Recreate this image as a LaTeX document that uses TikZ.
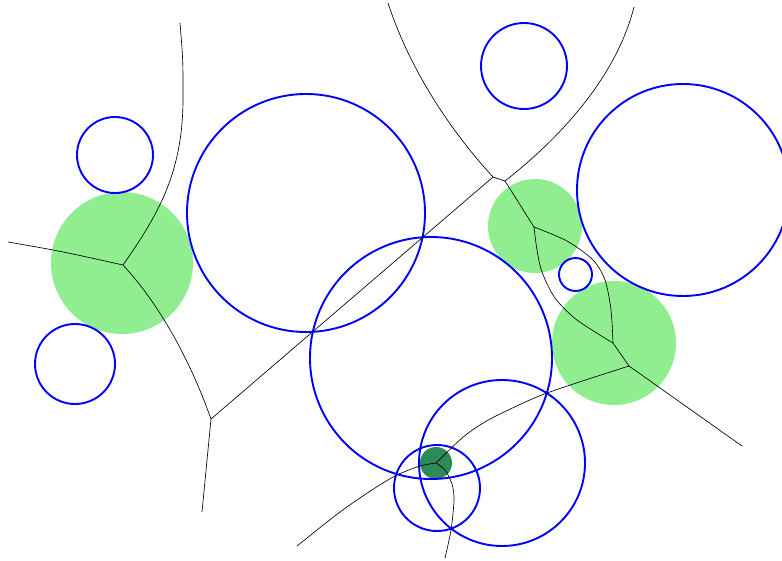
\documentclass[tikz,border=0pt]{standalone}
\definecolor{lgreen}{HTML}{90EE90}
\definecolor{dgreen}{HTML}{2E8B57}
\begin{document}
\begin{tikzpicture}[x=1pt,y=-1pt,
  site/.style={draw=blue,line width=1.9pt},
  wsite/.style={fill=lgreen},
  dsite/.style={fill=dgreen},
  edge/.style={draw=black,line width=0.65pt}]
\useasboundingbox (0,0) rectangle (782,560);
% weighted (green) sites
\fill[wsite] (122,263) circle (71);
\fill[wsite] (535,226) circle (47);
\fill[wsite] (614,343) circle (62);
\fill[dsite] (436,463) circle (16);
% blue sites
\draw[site] (115,155) circle (38);
\draw[site] (75,364) circle (40);
\draw[site] (306,213) circle (119);
\draw[site] (524,66) circle (43);
\draw[site] (683,190) circle (106);
\draw[site] (575.5,274.5) circle (16.5);
\draw[site] (431,358) circle (121);
\draw[site] (502,463) circle (83);
\draw[site] (437,488) circle (43);
% vertices
\coordinate (v1) at (123,265);
\coordinate (v2) at (211,419);
\coordinate (v3) at (493,177);
\coordinate (v4) at (505,181);
\coordinate (v5) at (534,227);
\coordinate (v6) at (613,343);
\coordinate (v7) at (629,366);
\coordinate (v8) at (436,463);
\coordinate (e1) at (8,242);
\coordinate (e2) at (180,23);
\coordinate (e3) at (202,512);
\coordinate (e4) at (388,3);
\coordinate (e5) at (634,7);
\coordinate (e6) at (742,446);
\coordinate (e7) at (297,546);
\coordinate (e8) at (445,558);
% edges
\draw[edge] (e1) .. controls (60,251) .. (v1);
\draw[edge] (v1) .. controls (160,212) and (184,170) .. (183,93) .. controls (183,60) .. (e2);
\draw[edge] (v1) .. controls (160,305) and (190,360) .. (v2);
\draw[edge] (v2) -- (e3);
\draw[edge] (v2) -- (v3);
\draw[edge] (v3) .. controls (450,130) and (410,70) .. (e4);
\draw[edge] (v3) -- (v4);
\draw[edge] (v4) .. controls (570,130) and (618,70) .. (e5);
\draw[edge] (v4) -- (v5);
\draw[edge] plot[smooth] coordinates {(v5) (567,241) (593,260) (605,280) (611,310) (v6)};
\draw[edge] plot[smooth] coordinates {(v5) (537,250) (542,272) (555,298) (577,320) (v6)};
\draw[edge] (v6) -- (v7);
\draw[edge] (v7) -- (e6);
\draw[edge] plot[smooth] coordinates {(v7) (547,393) (500,414) (480,425) (462,438) (v8)};
\draw[edge] plot[smooth] coordinates {(v8) (420,466) (397,475) (375,488) (340,512) (e7)};
\draw[edge] plot[smooth] coordinates {(v8) (445,470) (452,484) (454,500) (451,530) (e8)};
\end{tikzpicture}
\end{document}
